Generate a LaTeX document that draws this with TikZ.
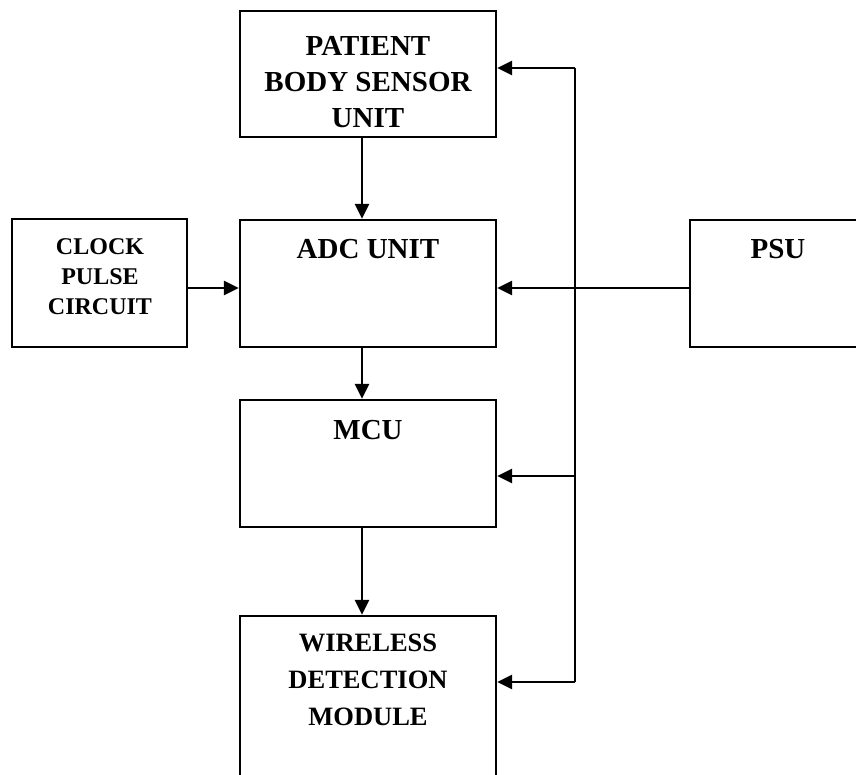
\documentclass[tikz,border=0pt]{standalone}
\usepackage{fontspec}
\setmainfont{Liberation Serif}
\usetikzlibrary{arrows.meta}
\begin{document}
\begin{tikzpicture}[x=1pt,y=-1pt,
  box/.style={draw,line width=2.2pt,rectangle,inner sep=0pt},
  lbl/.style={font=\bfseries\fontsize{29}{36}\selectfont,align=center,inner sep=0pt},
  slbl/.style={font=\bfseries\fontsize{24}{30}\selectfont,align=center,inner sep=0pt},
  wlbl/.style={font=\bfseries\fontsize{26.5}{37}\selectfont,align=center,inner sep=0pt},
  arr/.style={line width=2.8pt,-{Triangle[length=15pt,width=14pt]}},
  bus/.style={line width=2.8pt},
  thin/.style={line width=1.5pt}]
\clip (0,0) rectangle (856,775);
\fill[white] (0,0) rectangle (856,775);
% boxes
\node[box,minimum width=256pt,minimum height=126pt] (pbsu) at (368,74) {};
\node[box,minimum width=256pt,minimum height=127pt] (adc) at (368,283.5) {};
\node[box,minimum width=175pt,minimum height=128pt] (clock) at (99.5,283) {};
\node[box,minimum width=170pt,minimum height=127pt] (psu) at (775,283.5) {};
\node[box,minimum width=256pt,minimum height=127pt] (mcu) at (368,463.5) {};
\node[box,minimum width=256pt,minimum height=190pt] (wdm) at (368,711) {};
% texts
\node[lbl] (tp) at (368,82) {PATIENT\\BODY SENSOR\\UNIT};
\node[lbl] (ta) at (368,249) {ADC UNIT};
\node[slbl] (tc) at (100,277) {CLOCK\\PULSE\\CIRCUIT};
\node[lbl] (ts) at (778,249) {PSU};
\node[lbl] (tm) at (368,430) {MCU};
\node[wlbl] (tw) at (368,680) {WIRELESS\\DETECTION\\MODULE};
% bus coordinates
\coordinate (bustop) at (575,68);
\coordinate (busmid) at (575,288);
\coordinate (busmcu) at (575,476);
\coordinate (busbot) at (575,682);
% connectors
\draw[arr] ([xshift=-6pt]pbsu.south) -- ([xshift=-6pt]adc.north);
\draw[arr] ([xshift=-6pt]adc.south) -- ([xshift=-6pt]mcu.north);
\draw[arr] ([xshift=-6pt]mcu.south) -- ([xshift=-6pt]wdm.north);
\draw[arr] (clock.east |- busmid) -- (busmid -| adc.west);
\draw[thin] (psu.west |- busmid) -- (busmid);
\draw[bus] (bustop) -- (busbot);
\draw[arr] (busmid) -- (busmid -| adc.east);
\draw[arr] (bustop) -- (bustop -| pbsu.east);
\draw[arr] (busmcu) -- (busmcu -| mcu.east);
\draw[arr] (busbot) -- (busbot -| wdm.east);
\end{tikzpicture}
\end{document}
